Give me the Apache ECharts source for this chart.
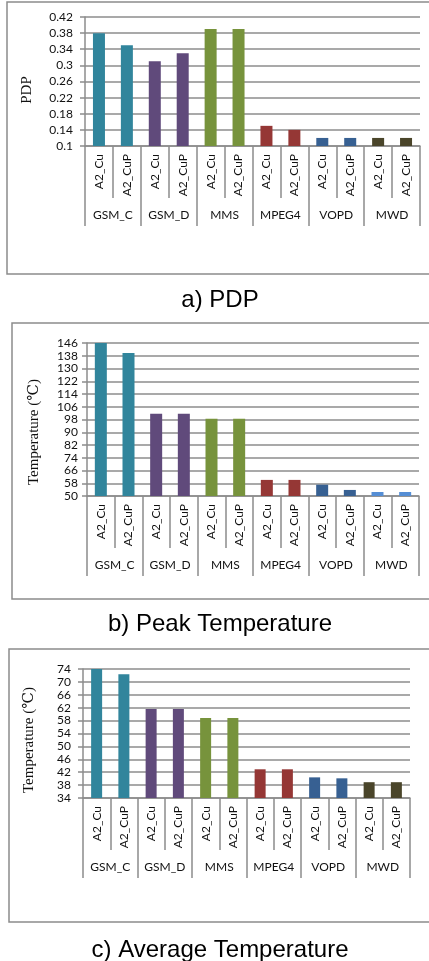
<!DOCTYPE html>
<html>
<head>
<meta charset="utf-8">
<script src="https://cdn.jsdelivr.net/npm/echarts@6/dist/echarts.min.js"></script>
<style>
html,body{margin:0;padding:0;background:#fff;}
#main{width:429px;height:961px;}
</style>
</head>
<body>
<div id="main"></div>
<script>
// ---- data ----
const groups = ['GSM_C', 'GSM_D', 'MMS', 'MPEG4', 'VOPD', 'MWD'];
const categories = ['A2_Cu', 'A2_CuP', 'A2_Cu', 'A2_CuP', 'A2_Cu', 'A2_CuP',
                    'A2_Cu', 'A2_CuP', 'A2_Cu', 'A2_CuP', 'A2_Cu', 'A2_CuP'];
const pdpValues = [0.38, 0.35, 0.31, 0.33, 0.39, 0.39, 0.15, 0.14, 0.12, 0.12, 0.12, 0.12];
const peakValues = [146, 139.7, 101.6, 101.6, 98.4, 98.4, 60.1, 60.1, 57.1, 53.8, 52.5, 52.5];
const avgValues = [74, 72.4, 61.6, 61.6, 58.8, 58.8, 42.9, 42.9, 40.4, 40.1, 38.9, 38.9];
const pdpAxis = {min: 0.1, max: 0.42, interval: 0.04};
const peakAxis = {min: 50, max: 146, interval: 8};
const avgAxis = {min: 34, max: 74, interval: 4};
const yNames = ['PDP', 'Temperature (\u2103)', 'Temperature (\u2103)'];
const captions = ['a) PDP', 'b) Peak Temperature', 'c) Average Temperature'];
const pdpColors = ['#31859C', '#604A7B', '#77933C', '#953735', '#376092', '#4A452A'];
const peakColors = ['#31859C', '#604A7B', '#77933C', '#953735', '#376092', '#558ED5'];
const avgColors = ['#31859C', '#604A7B', '#77933C', '#953735', '#376092', '#4A452A'];

// ---- layout ----
const charts = [
  {values: pdpValues, axis: pdpAxis, colors: pdpColors,
   grid: {left: 85, top: 17, width: 335, height: 129}, nameGap: 50, namePad: 17, labelMargin: 12, barWidth: 12,
   box: [7, 2, 440, 272], captionY: 300},
  {values: peakValues, axis: peakAxis, colors: peakColors,
   grid: {left: 87, top: 343, width: 332, height: 153}, nameGap: 45, namePad: 25, labelMargin: 9, barWidth: 12,
   box: [12, 323, 430, 276], captionY: 624},
  {values: avgValues, axis: avgAxis, colors: avgColors,
   grid: {left: 83, top: 669, width: 327, height: 129}, nameGap: 46, namePad: 13, labelMargin: 12, barWidth: 11,
   box: [9, 649, 430, 273], captionY: 950}
];

const GRAY = '#8c8c8c';
const LABEL_FONT = 'Lato, "Open Sans", sans-serif';

const option = {
  animation: false,
  backgroundColor: '#fff',
  grid: [], xAxis: [], yAxis: [], series: [], graphic: []
};

charts.forEach((c, i) => {
  option.grid.push(Object.assign({outerBoundsMode: 'none', containLabel: false}, c.grid));
  option.xAxis.push({
    type: 'category', gridIndex: i, data: categories, position: 'bottom',
    axisLine: {show: true, lineStyle: {color: GRAY, width: 1.5}},
    axisTick: {show: true, length: 52, interval: 0, alignWithLabel: false, lineStyle: {color: GRAY, width: 1.5}},
    axisLabel: {rotate: 90, margin: 8, interval: 0, fontSize: 12, fontFamily: LABEL_FONT, color: '#111'},
    splitLine: {show: false}
  });
  option.xAxis.push({
    type: 'category', gridIndex: i, data: groups, position: 'bottom', offset: 52,
    axisLine: {show: false},
    axisTick: {show: true, length: 28, interval: 0, alignWithLabel: false, lineStyle: {color: GRAY, width: 1.5}},
    axisLabel: {margin: 11, interval: 0, fontSize: 12, fontFamily: LABEL_FONT, color: '#111'},
    splitLine: {show: false}
  });
  option.yAxis.push({
    type: 'value', gridIndex: i,
    min: c.axis.min, max: c.axis.max, interval: c.axis.interval,
    name: yNames[i], nameLocation: 'middle', nameGap: c.nameGap,
    nameTextStyle: {fontFamily: '"Liberation Serif", "DejaVu Serif", serif', fontSize: 15, color: '#111',
                    padding: [0, c.namePad, 0, 0]},
    axisLine: {show: true, lineStyle: {color: GRAY, width: 1.5}},
    axisTick: {show: true, length: 5, lineStyle: {color: GRAY, width: 1.5}},
    axisLabel: {margin: c.labelMargin, fontSize: 12, fontFamily: LABEL_FONT, color: '#111'},
    splitLine: {show: true, lineStyle: {color: GRAY, width: 1.5}}
  });
  option.series.push({
    type: 'bar', xAxisIndex: 2 * i, yAxisIndex: i, barWidth: c.barWidth,
    data: c.values.map((v, k) => ({value: v, itemStyle: {color: c.colors[Math.floor(k / 2)]}}))
  });
  option.graphic.push({
    type: 'rect', shape: {x: c.box[0], y: c.box[1], width: c.box[2], height: c.box[3]},
    style: {fill: 'none', stroke: GRAY, lineWidth: 1.5}, z: -1
  });
  option.graphic.push({
    type: 'text', x: 220, y: c.captionY,
    style: {text: captions[i], font: '24px "Liberation Sans", Arial, sans-serif', fill: '#000',
            textAlign: 'center', textVerticalAlign: 'middle', align: 'center', verticalAlign: 'middle'}
  });
});

const chart = echarts.init(document.getElementById('main'), null, {renderer: 'canvas'});
chart.setOption(option);
</script>
</body>
</html>
